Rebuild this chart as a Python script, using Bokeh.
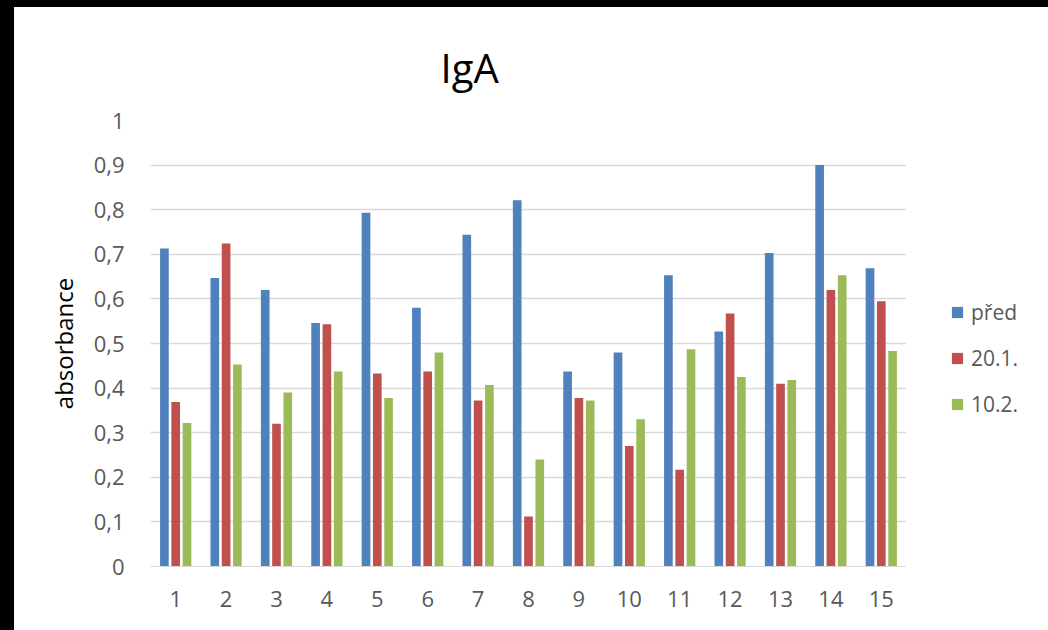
from bokeh.plotting import figure
from bokeh.layouts import row
from bokeh.models import (ColumnDataSource, Range1d, FixedTicker, CustomJSTickFormatter,
                          Legend, LegendItem, Title)
from bokeh.transform import dodge
from bokeh.embed import file_html
from bokeh.resources import INLINE

# ---- data ----
categories = [1, 2, 3, 4, 5, 6, 7, 8, 9, 10, 11, 12, 13, 14, 15]
pred = [0.713, 0.647, 0.620, 0.546, 0.793, 0.580, 0.744, 0.821, 0.437, 0.480,
        0.653, 0.527, 0.703, 0.900, 0.669]
d20_1 = [0.369, 0.724, 0.320, 0.543, 0.433, 0.437, 0.372, 0.112, 0.378, 0.270,
         0.217, 0.567, 0.410, 0.620, 0.595]
d10_2 = [0.322, 0.453, 0.390, 0.437, 0.378, 0.480, 0.407, 0.240, 0.372, 0.330,
         0.487, 0.425, 0.418, 0.653, 0.483]
series_names = ["před", "20.1.", "10.2."]
y_ticks = [0, 0.1, 0.2, 0.3, 0.4, 0.5, 0.6, 0.7, 0.8, 0.9, 1.0]
title_text = "IgA"
y_label = "absorbance"

colors = ["#4f81bd", "#c0504d", "#9bbb59"]
FONT = "Open Sans"
columns = ["pred", "d20", "d10"]

src = ColumnDataSource(dict(x=categories, pred=pred, d20=d20_1, d10=d10_2))

# ---- main chart ----
p = figure(width=906, height=630, output_backend="svg", toolbar_location=None,
           x_range=Range1d(0.5, 15.5), y_range=Range1d(0, 1),
           min_border_left=136, min_border_right=14, min_border_top=113,
           min_border_bottom=71)
p.styles = {"border-left": "14px solid black", "border-top": "7px solid black"}
p.title = Title(text=title_text, align="left", offset=290, text_font=FONT,
                text_font_size="40px", text_font_style="normal", text_color="#000000",
                standoff=52)
p.outline_line_color = None
p.background_fill_color = "white"
p.border_fill_color = "white"

bw = 0.172
off = 0.224
for col, c, o in zip(columns, colors, [-off, 0, off]):
    p.vbar(x=dodge("x", o, range=p.x_range), top=col, width=bw, source=src,
           fill_color=c, line_color=None)

p.xaxis.ticker = FixedTicker(ticks=categories)
p.xaxis.major_tick_line_color = None
p.xaxis.minor_tick_line_color = None
p.xaxis.axis_line_color = "#d9d9d9"
p.xaxis.major_label_text_font = FONT
p.xaxis.major_label_text_font_size = "22px"
p.xaxis.major_label_text_color = "#595959"
p.xaxis.major_label_standoff = 18
p.xgrid.grid_line_color = None

p.yaxis.ticker = FixedTicker(ticks=y_ticks)
p.yaxis.formatter = CustomJSTickFormatter(
    code="return tick.toFixed(1).replace('.', ',').replace(',0', '');")
p.yaxis.major_tick_line_color = None
p.yaxis.minor_tick_line_color = None
p.yaxis.axis_line_color = None
p.yaxis.major_label_text_font = FONT
p.yaxis.major_label_text_font_size = "22px"
p.yaxis.major_label_text_color = "#595959"
p.yaxis.major_label_standoff = 20
p.yaxis.axis_label = y_label
p.yaxis.axis_label_text_font = FONT
p.yaxis.axis_label_text_font_size = "24px"
p.yaxis.axis_label_text_font_style = "normal"
p.yaxis.axis_label_text_color = "#000000"
p.yaxis.axis_label_standoff = 11
p.ygrid.grid_line_color = "#d9d9d9"
p.ygrid.grid_line_width = 1.5

# ---- legend panel (separate figure to the right of the plot area) ----
lf = figure(width=142, height=630, output_backend="svg", toolbar_location=None,
            x_range=Range1d(-10, -9), y_range=Range1d(0, 1),
            min_border_left=0, min_border_right=0, min_border_top=0, min_border_bottom=0)
lf.styles = {"border-top": "7px solid black"}
lf.axis.visible = False
lf.grid.visible = False
lf.outline_line_color = None
lf.border_fill_color = "white"
lr = [lf.vbar(x="x", top=col, width=bw, source=src, fill_color=c, line_color=None)
      for col, c in zip(columns, colors)]
legend = Legend(items=[LegendItem(label=n, renderers=[r]) for n, r in zip(series_names, lr)],
                location=(44, 148), orientation="vertical",
                label_text_font=FONT, label_text_font_size="21px",
                label_text_color="#595959", glyph_width=14, glyph_height=14,
                label_height=26, spacing=18, label_standoff=7, padding=0, margin=0,
                border_line_color=None, background_fill_alpha=0)
lf.add_layout(legend)

layout = row(p, lf, spacing=0)
open("out.html", "w").write(file_html(layout, INLINE))
